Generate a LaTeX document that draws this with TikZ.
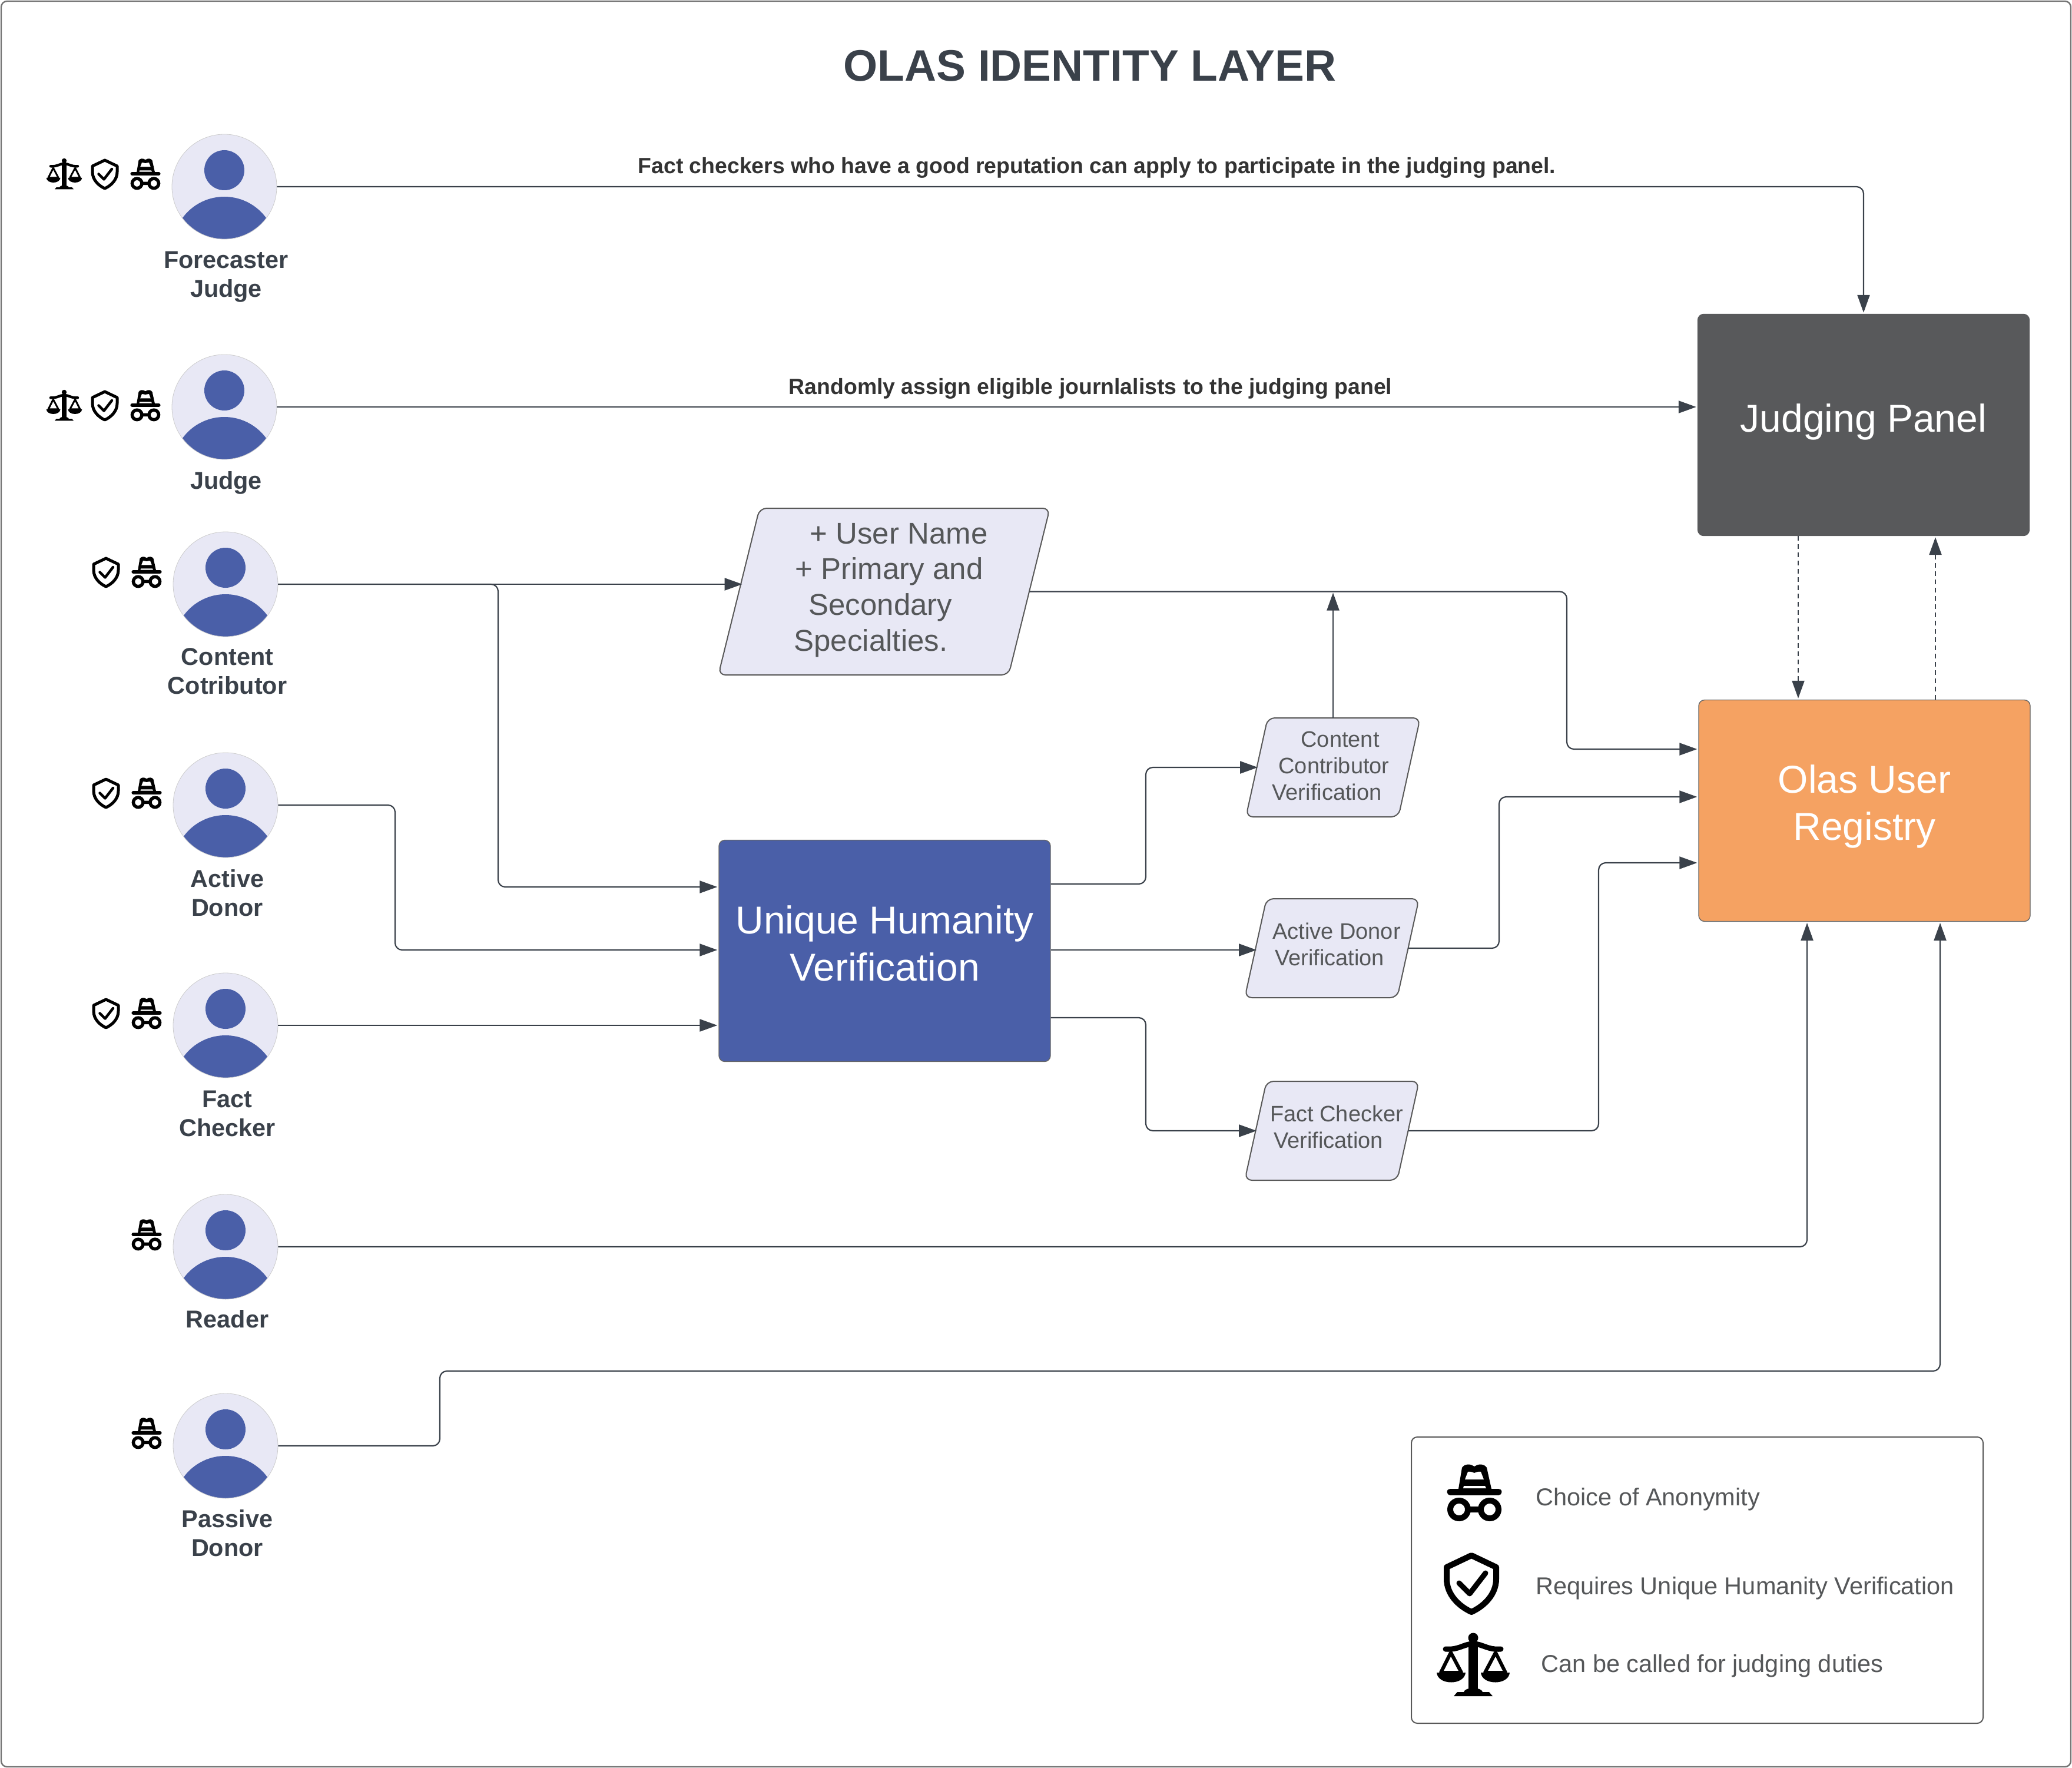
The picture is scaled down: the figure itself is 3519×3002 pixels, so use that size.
\documentclass[tikz,border=0pt]{standalone}
\usepackage{fontspec}
\setmainfont{Liberation Sans}
\usetikzlibrary{arrows.meta}

\definecolor{linecol}{HTML}{3A414A}
\definecolor{softtext}{HTML}{555759}
\definecolor{palefill}{HTML}{E8E8F5}
\definecolor{bluefill}{HTML}{4A5FA8}
\definecolor{greyfill}{HTML}{58595B}
\definecolor{orangefill}{HTML}{F5A262}

\tikzset{
  pics/hatico/.style={code={
    \begin{scope}[scale=#1]
      \fill[black] (-27,-7) -- (-21,-43) .. controls (-16,-50) and (-8,-50) .. (0,-45)
        .. controls (8,-50) and (16,-50) .. (21,-43) -- (29,-7) -- cycle;
      \fill[white] (-16,-23) -- (-11,-36) .. controls (-7,-37) and (-3,-35) .. (0,-34)
        .. controls (3,-35) and (7,-37) .. (11,-36) -- (16,-23) -- cycle;
      \fill[white] (-18,-12) -- (18,-12) -- (20,-8) -- (-19,-8) -- cycle;
      \draw[line width=#1*5.5pt,line cap=round] (-41,-2) -- (41,-2);
      \draw[line width=#1*5pt] (-26,28) circle (15) (26,28) circle (15) (-11,28) -- (11,28);
    \end{scope}
  }},
  pics/shieldico/.style={code={
    \begin{scope}[scale=#1]
      \draw[line width=#1*5pt,line join=round] (0,-48) -- (42,-28) -- (42,-8)
        .. controls (42,18) and (22,38) .. (0,48)
        .. controls (-22,38) and (-42,18) .. (-42,-8) -- (-42,-28) -- cycle;
      \draw[line width=#1*4.5pt,line cap=round,line join=round] (-21,-1) -- (-3,17) -- (24,-18);
    \end{scope}
  }},
  pics/scaleico/.style={code={
    \begin{scope}[scale=#1]
      \fill[black] (0,-47) circle (8.5);
      \fill[black] (-8,-40) rectangle (8,46);
      \fill[black] (-33,52) -- (-27,45) -- (-16,45) .. controls (-14,36) and (14,36) .. (16,45)
        -- (27,45) -- (33,52) -- cycle;
      \draw[line width=#1*4.5pt,line cap=round] (-47,-28) .. controls (-25,-26) and (-15,-37) .. (0,-37)
        .. controls (15,-37) and (25,-26) .. (47,-28);
      \draw[line width=#1*3pt,line join=round] (-38,-22) -- (-55,12) -- (-20,12) -- cycle;
      \draw[line width=#1*3pt,line join=round] (38,-22) -- (20,12) -- (55,12) -- cycle;
      \fill[black] (-62,12) -- (-13,12) .. controls (-15,34) and (-60,34) .. (-62,12) -- cycle;
      \fill[black] (62,12) -- (13,12) .. controls (15,34) and (60,34) .. (62,12) -- cycle;
    \end{scope}
  }}
}

\newcommand{\slantbox}[6]{
  \draw[slantshape] ({#2-#4/2},{#3+#5/2}) -- ({#2-#4/2+#6},{#3-#5/2}) -- ({#2+#4/2},{#3-#5/2})
    -- ({#2+#4/2-#6},{#3+#5/2}) -- cycle;
  \node (#1) at (#2,#3) [minimum width={(#4-#6)*0.5pt},minimum height={#5*0.5pt},inner sep=0pt] {};
}

\begin{document}
\begin{tikzpicture}
  [x=0.5pt,y=-0.5pt,
   person/.style={circle,minimum size=89pt,inner sep=0pt,fill=palefill,draw=black!20,line width=0.4pt,
     path picture={
       \fill[bluefill] ([yshift=14pt]path picture bounding box.center) circle (17pt);
       \fill[bluefill] ([yshift=-52.5pt]path picture bounding box.center) circle (44pt);
     }},
   personname/.style={align=center,text=linecol,font=\fontsize{20.7}{24.7}\selectfont\bfseries,inner sep=0pt},
   edgetext/.style={text=black!80,font=\fontsize{18.7}{22}\selectfont\bfseries,inner sep=0pt},
   bigbox/.style={rectangle,rounded corners=5pt,minimum width=281.5pt,minimum height=188pt,draw=black!60,line width=0.7pt},
   bigtext/.style={align=center,text=white,font=\fontsize{33}{40}\selectfont,inner sep=0pt},
   slantshape/.style={fill=palefill,draw=black!65,line width=1pt,rounded corners=6pt},
   slanttext/.style={align=left,text=softtext,font=\fontsize{19}{22.5}\selectfont,inner sep=0pt},
   legendtext/.style={text=softtext,font=\fontsize{20.75}{25}\selectfont,inner sep=0pt,anchor=west},
   link/.style={draw=linecol,line width=1.1pt,rounded corners=6pt,shorten >=1pt,-{Triangle[length=15pt,width=10.5pt]}},
   slantlink/.style={link,shorten >=-1pt},
   dashlink/.style={link,dash pattern=on 4pt off 3pt,rounded corners=0pt}]

  \useasboundingbox (0,0) rectangle (3519,3002);
  \draw[black!55,line width=1.2pt,rounded corners=5pt] (2,2) rectangle (3517,3000);

  \node (title) at (1851,112) [text=linecol,font=\fontsize{37.4}{44}\selectfont\bfseries,inner sep=0pt] {OLAS IDENTITY LAYER};

  \foreach \name/\x/\y/\tx/\ty/\txt in {
    forecaster/381/317/384/470/{Forecaster\\Judge},
    judge/381/691/384/820/{Judge},
    content/383/992/386/1140/{Content\\Cotributor},
    active/383/1367/386/1516/{Active\\Donor},
    fact/383/1741/386/1891/{Fact\\Checker},
    reader/383/2117/386/2240/{Reader},
    passive/383/2455/386/2603/{Passive\\Donor}}
  {
    \node (\name) at (\x,\y) [person] {};
    \node (\name-name) at (\tx,\ty) [personname] {\txt};
  }

  \foreach \x/\y in {109/296,109/689}
    \pic at (\x,\y) {scaleico=0.49};
  \foreach \x/\y in {178/296,178/689,180/972,180/1347,180/1721}
    \pic at (\x,\y) {shieldico=0.5};
  \foreach \x/\y in {247/296,247/689,249/972,249/1347,249/1721,249/2097,249/2434}
    \pic at (\x,\y) {hatico=0.55};

  \node (panel) at (3165,721.5) [bigbox,fill=greyfill,draw=greyfill] {};
  \node (panel-text) at (3165,716) [bigtext] {Judging Panel};
  \node (olas) at (3166.5,1376.5) [bigbox,fill=orangefill] {};
  \node (olas-text) at (3166.5,1369) [bigtext] {Olas User\\Registry};
  \node (unique) at (1502.5,1614.5) [bigbox,fill=bluefill] {};
  \node (unique-text) at (1502.5,1602) [bigtext] {Unique Humanity\\Verification};

  \slantbox{user}{1501.5}{1004.5}{563}{283}{70}
  \slantbox{ccv}{2264}{1303}{296}{168}{37}
  \slantbox{adv}{2262}{1610}{296}{168}{37}
  \slantbox{fcv}{2262}{1920}{296}{168}{37}

  \node (user-text) at (1513,1002) [slanttext,font=\fontsize{25.5}{30.4}\selectfont]
    {\hspace*{13.5pt}+ User Name\\\hspace*{1pt}+ Primary and\\\hspace*{12.5pt}Secondary\\Specialties.};
  \node (ccv-text) at (2260,1300) [slanttext] {\hspace*{24.5pt}Content\\\hspace*{5.5pt}Contributor\\Verification};
  \node (adv-text) at (2270,1603) [slanttext] {Active Donor\\\hspace*{2pt}Verification};
  \node (fcv-text) at (2270,1913) [slanttext] {Fact Checker\\\hspace*{3pt}Verification};

  \node (forecaster-edge) at (1863,285) [edgetext] {Fact checkers who have a good reputation can apply to participate in the judging panel.};
  \node (judge-edge) at (1852,660) [edgetext] {Randomly assign eligible journlalists to the judging panel};

  \coordinate (contentdrop) at (846,1506);
  \coordinate (activedrop) at (671,1613);
  \coordinate (readerin) at (3069,1565);
  \coordinate (passivebend) at (747,2328);
  \coordinate (passivein) at (3295,1565);
  \coordinate (uniqueup) at (unique.east |- 0,1501);
  \coordinate (uniquedown) at (unique.east |- 0,1728);
  \coordinate (ccvbend) at (1946,1303);
  \coordinate (fcvbend) at (1946,1920);
  \coordinate (userbend) at (2661,1272);
  \coordinate (advbend) at (2546,1353);
  \coordinate (fcvout) at (2715,1465);

  \draw[link] (forecaster) -| (panel);
  \draw[link] (judge) -- (judge -| panel.west);
  \draw[link] (content.east) -- ([xshift=4pt]content -| user.west);
  \draw[link] (content.east) -| (contentdrop) -- (contentdrop -| unique.west);
  \draw[link] (active.east) -| (activedrop) -- (activedrop -| unique.west);
  \draw[link] (fact) -- (fact -| unique.west);
  \draw[link] (reader.east) -| (readerin);
  \draw[link] (passive.east) -| (passivebend) -| (passivein);
  \draw[slantlink] (uniqueup) -| (ccvbend) -- (ccv.west);
  \draw[slantlink] (unique.east |- activedrop) -- (activedrop -| adv.west);
  \draw[slantlink] (uniquedown) -| (fcvbend) -- (fcv.west);
  \draw[link] (user.east) -| (userbend) -- (userbend -| olas.west);
  \draw[link] (ccv.north) -- (ccv.north |- user.east);
  \draw[link] (adv.east) -| (advbend) -- (advbend -| olas.west);
  \draw[link] (fcv.east) -| (fcvout) -- (fcvout -| olas.west);
  \draw[dashlink] (panel.south -| 3054,0) -- (olas.north -| 3054,0);
  \draw[dashlink] (olas.north -| 3287,0) -- (panel.south -| 3287,0);

  \node (legend) at (2882.5,2683) [rectangle,rounded corners=5pt,minimum width=485.5pt,minimum height=243pt,draw=black!65,line width=1pt] {};
  \pic at (2504,2535) {hatico=1};
  \pic at (2499,2689) {shieldico=1};
  \pic at (2502,2828) {scaleico=1};
  \node (legend-hat) at (2608,2546) [legendtext] {Choice of Anonymity};
  \node (legend-shield) at (2608,2697) [legendtext] {Requires Unique Humanity Verification};
  \node (legend-scale) at (2617,2829) [legendtext] {Can be called for judging duties};

\end{tikzpicture}
\end{document}
